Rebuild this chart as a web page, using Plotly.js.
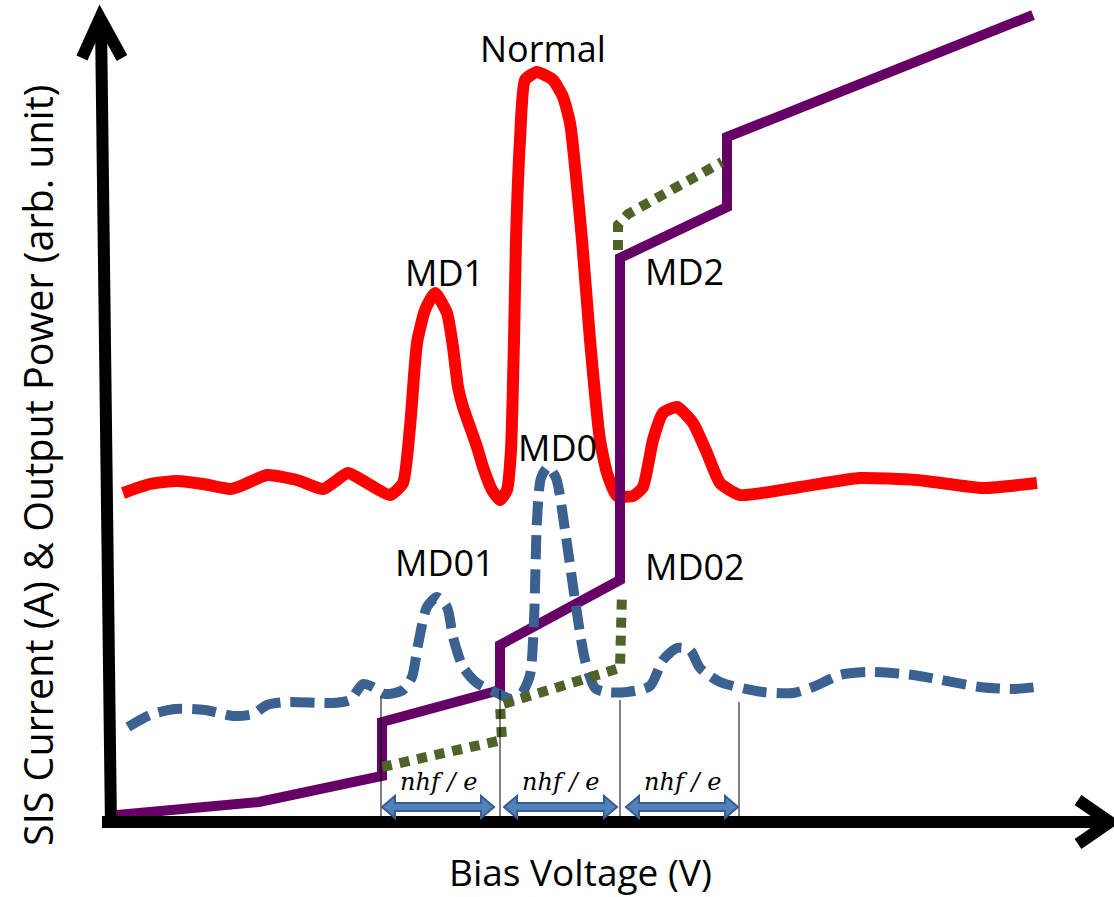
<!DOCTYPE html>
<html>
<head>
<meta charset="utf-8">
<script src="https://cdn.plot.ly/plotly-3.0.1.min.js"></script>
<style>html,body{margin:0;padding:0;background:#fff;}#chart{width:1114px;height:897px;}</style>
</head>
<body>
<div id="chart"></div>
<script>
// ---- Data (arbitrary units; origin at axis corner) ----
// SIS current, step-like I-V (purple, solid)
const ivBias    = [7, 149, 272, 272, 390, 390, 510, 510, 617, 617, 923];
const ivCurrent = [5, 18, 44, 98, 130, 175, 240, 562, 613, 683, 805];

// Alternative current branch (olive, dotted)
const altBias    = [272, 392, 390, 510, 512, null, 508, 508, 518, 612];
const altCurrent = [53, 80, 115, 152, 228, null, 570, 595, 606, 658];

// Output power, "Normal" mode (red, solid)
const normBias  = [13, 40, 67, 93, 120, 133, 157, 187, 213, 223, 238, 257, 280, 293, 300, 307, 315, 325, 337, 343, 348, 353, 360, 367, 373, 382, 390, 397, 401, 404, 406, 410, 415, 427, 443, 453, 460, 472, 480, 490, 497, 507, 523, 533, 543, 553, 567, 583, 597, 610, 630, 690, 750, 807, 873, 927];
const normPower = [327, 336, 339, 336, 331, 335, 345, 340, 331, 337, 347, 337, 325, 337, 393, 477, 510, 527, 507, 473, 433, 413, 393, 373, 353, 330, 320, 330, 370, 480, 580, 680, 740, 748, 740, 723, 697, 580, 480, 380, 347, 324, 324, 333, 380, 407, 413, 397, 367, 337, 325, 333, 342, 340, 332, 337];

// Output power, second mode (blue, dashed)
const mdBias  = [18, 40, 65, 95, 123, 143, 157, 177, 223, 240, 253, 263, 275, 293, 302, 308, 317, 327, 337, 343, 353, 367, 387, 402, 412, 420, 424, 427, 431, 438, 446, 455, 465, 475, 485, 495, 517, 540, 553, 567, 580, 590, 610, 653, 683, 703, 730, 757, 803, 870, 903, 927];
const mdPower = [93, 105, 111, 110, 104, 106, 115, 118, 117, 120, 136, 133, 126, 130, 143, 175, 213, 223, 213, 183, 153, 137, 127, 121, 127, 145, 200, 300, 342, 353, 342, 290, 220, 160, 132, 128, 128, 134, 160, 172, 170, 152, 138, 128, 127, 133, 145, 148, 145, 133, 131, 133];

// Text labels
const peakLabels = ['Normal', 'MD1', 'MD2', 'MD0', 'MD01', 'MD02'];
const peakLabelX = [433, 334, 574, 447, 335, 585];
const peakLabelY = [772, 548, 549, 373, 258, 254];
const stepLabel = 'nhf / e';
const stepStart = [272, 394, 516];
const stepEnd   = [384, 507, 628];
const stepMarks = [271, 390, 510, 629];
const stepMarkTop = [123, 130, 120, 118];

// ---- Layout decoration ----
const shapes = [];
const AX = {color: '#000', width: 12};
shapes.push({type: 'line', xref: 'x', yref: 'y', x0: 1, y0: -8, x1: -9, y1: 798, line: AX});
shapes.push({type: 'path', xref: 'x', yref: 'y', path: 'M -28 762 L -10 802 L 12 762', line: AX});
shapes.push({type: 'line', xref: 'x', yref: 'y', x0: -8, y0: -2, x1: 998, y1: -2, line: AX});
shapes.push({type: 'path', xref: 'x', yref: 'y', path: 'M 968 20 L 1000 -2 L 968 -24', line: AX});
stepMarks.forEach((x, i) => {
  shapes.push({type: 'line', xref: 'x', yref: 'y', x0: x, x1: x, y0: 4, y1: stepMarkTop[i], line: {color: '#000', width: 1}});
});
const yc = 13, L = 13, H = 11, h = 4;
stepStart.forEach((x0, i) => {
  const x1 = stepEnd[i];
  const p = `M ${x0} ${yc} L ${x0+L} ${yc+H} L ${x0+L} ${yc+h} L ${x1-L} ${yc+h} L ${x1-L} ${yc+H} L ${x1} ${yc} L ${x1-L} ${yc-H} L ${x1-L} ${yc-h} L ${x0+L} ${yc-h} L ${x0+L} ${yc-H} Z`;
  shapes.push({type: 'path', xref: 'x', yref: 'y', path: p, fillcolor: '#4F81BD', line: {color: '#385D8A', width: 2}});
});

const FONT = 'Open Sans, Noto Sans, sans-serif';
const annotations = [];
peakLabels.forEach((t, i) => {
  annotations.push({x: peakLabelX[i], y: peakLabelY[i], xref: 'x', yref: 'y', text: t, showarrow: false,
    xanchor: 'center', yanchor: 'middle', font: {family: FONT, size: 36, color: '#000'}});
});
stepStart.forEach((x0, i) => {
  annotations.push({x: (x0 + stepEnd[i]) / 2, y: 38, xref: 'x', yref: 'y', text: '<i>' + stepLabel + '</i>', showarrow: false,
    xanchor: 'center', yanchor: 'middle', font: {family: 'DejaVu Serif, serif', size: 24, color: '#000'}});
});
annotations.push({x: -72, y: 355, xref: 'x', yref: 'y', text: 'SIS Current (A) &amp; Output Power (arb. unit)', textangle: -90,
  showarrow: false, xanchor: 'center', yanchor: 'middle', font: {family: FONT, size: 39.5, color: '#000'}});
annotations.push({x: 470, y: -51, xref: 'x', yref: 'y', text: 'Bias Voltage (V)', showarrow: false,
  xanchor: 'center', yanchor: 'middle', font: {family: FONT, size: 37, color: '#000'}});

const traces = [
  {x: normBias, y: normPower, mode: 'lines', line: {color: '#FF0000', width: 12, shape: 'spline', smoothing: 0.5}, hoverinfo: 'skip'},
  {x: ivBias, y: ivCurrent, mode: 'lines', line: {color: '#660066', width: 10}, hoverinfo: 'skip'},
  {x: mdBias, y: mdPower, mode: 'lines', line: {color: '#3A6190', width: 10, dash: '24px,10px', shape: 'spline', smoothing: 0.7}, hoverinfo: 'skip'},
  {x: altBias, y: altCurrent, mode: 'lines', connectgaps: false, line: {color: '#4F6228', width: 10, dash: '10px,8px'}, hoverinfo: 'skip'}
];

const layout = {
  width: 1114, height: 897,
  margin: {l: 0, r: 0, t: 0, b: 0},
  paper_bgcolor: '#fff', plot_bgcolor: '#fff',
  showlegend: false,
  xaxis: {range: [-110, 1004], visible: false, fixedrange: true},
  yaxis: {range: [-77, 820], visible: false, fixedrange: true},
  shapes: shapes,
  annotations: annotations
};

Plotly.newPlot('chart', traces, layout, {staticPlot: true, displayModeBar: false});
</script>
</body>
</html>
